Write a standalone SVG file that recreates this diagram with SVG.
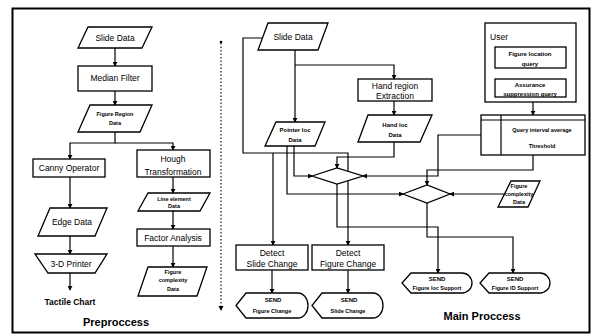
<svg xmlns="http://www.w3.org/2000/svg" width="594" height="336" viewBox="0 0 594 336">
<defs>
<marker id="ah" viewBox="0 0 6 6" refX="5" refY="3" markerWidth="5" markerHeight="5" orient="auto" markerUnits="userSpaceOnUse">
<path d="M0,0 L6,3 L0,6 z" fill="#000"/>
</marker>
<style>
.s{fill:#fff;stroke:#000;stroke-width:1.3}
.c{fill:none;stroke:#000;stroke-width:1.2}
.d{fill:none;stroke:#000;stroke-width:1.1;stroke-dasharray:1.5 2}
text{font-family:"Liberation Sans",Arial,sans-serif;fill:#000;text-anchor:middle}
.t8{font-size:8.5px}
.t6{font-size:6px;font-weight:bold}
.t5{font-size:5.5px;font-weight:bold}
.b{font-weight:bold}
</style>
</defs>
<rect x="0" y="0" width="594" height="336" fill="#fff"/>
<rect x="12.5" y="8.5" width="577" height="324" fill="none" stroke="#000" stroke-width="2"/>

<g id="separator">
<line x1="221" y1="43" x2="221" y2="306" class="d"/>
<circle cx="221" cy="42" r="1.3" fill="#000"/>
<path d="M218.5,306 L223.5,306 L221,311 z" fill="#000"/>
</g>

<g id="connectors">
<line x1="115" y1="48" x2="115" y2="66" class="c" marker-end="url(#ah)"/>
<line x1="115" y1="91" x2="115" y2="105" class="c" marker-end="url(#ah)"/>
<polyline points="115,132 115,143 70,143 70,159" class="c" marker-end="url(#ah)"/>
<polyline points="115,143 173,143 173,150" class="c" marker-end="url(#ah)"/>
<line x1="70" y1="177" x2="70" y2="208" class="c" marker-end="url(#ah)"/>
<line x1="70" y1="236" x2="70" y2="254" class="c" marker-end="url(#ah)"/>
<line x1="70" y1="273" x2="70" y2="290" class="c" marker-end="url(#ah)"/>
<line x1="173" y1="177" x2="173" y2="193" class="c" marker-end="url(#ah)"/>
<line x1="173" y1="211" x2="173" y2="229" class="c" marker-end="url(#ah)"/>
<line x1="173" y1="246" x2="173" y2="267" class="c" marker-end="url(#ah)"/>
<line x1="295" y1="50" x2="295" y2="122" class="c" marker-end="url(#ah)"/>
<polyline points="295,65 394,65 394,79" class="c" marker-end="url(#ah)"/>
<line x1="394" y1="101" x2="394" y2="115" class="c" marker-end="url(#ah)"/>
<polyline points="263,38 243,38 243,153 348,153 348,245" class="c" marker-end="url(#ah)"/>
<line x1="273" y1="153" x2="273" y2="245" class="c" marker-end="url(#ah)"/>
<polyline points="394,142 394,157 337,157 337,168" class="c" marker-end="url(#ah)"/>
<polyline points="294,146 294,176 312,176" class="c" marker-end="url(#ah)"/>
<polyline points="287,146 287,194 403,194" class="c" marker-end="url(#ah)"/>
<polyline points="481,135 438,135 438,176 363,176" class="c" marker-end="url(#ah)"/>
<polyline points="533,155 533,170 427,170 427,185" class="c" marker-end="url(#ah)"/>
<line x1="504" y1="194" x2="450" y2="194" class="c" marker-end="url(#ah)"/>
<polyline points="337,184 337,227 438,227 438,273" class="c" marker-end="url(#ah)"/>
<polyline points="427,203 427,237 513,237 513,273" class="c" marker-end="url(#ah)"/>
<line x1="533" y1="102" x2="533" y2="115" class="c" marker-end="url(#ah)"/>
<line x1="272" y1="270" x2="272" y2="293" class="c" marker-end="url(#ah)"/>
<line x1="348" y1="270" x2="348" y2="293" class="c" marker-end="url(#ah)"/>
</g>

<g id="pre-slide-data">
<polygon points="88,27 152,27 142,48 78,48" class="s"/>
<text x="115" y="41" class="t8">Slide Data</text>
</g>
<g id="median-filter">
<rect x="78" y="66" width="74" height="25" class="s"/>
<text x="115" y="81" class="t8">Median Filter</text>
</g>
<g id="figure-region-data">
<polygon points="90,105 152,105 140,132 78,132" class="s"/>
<text x="115" y="116" class="t5">Figure Region</text>
<text x="115" y="125" class="t5">Data</text>
</g>
<g id="canny">
<rect x="33" y="159" width="72" height="18" class="s"/>
<text x="69" y="171" class="t8">Canny Operator</text>
</g>
<g id="edge-data">
<polygon points="50,208 107,208 95,236 38,236" class="s"/>
<text x="72" y="225" class="t8">Edge Data</text>
</g>
<g id="printer">
<polygon points="35,254 107,254 95,273 48,273" class="s"/>
<text x="71" y="267" class="t8">3-D Printer</text>
</g>
<g id="tactile-chart">
<text x="70" y="305" class="t8 b">Tactile Chart</text>
</g>
<g id="hough">
<rect x="137" y="150" width="73" height="27" class="s"/>
<text x="173" y="162" class="t8">Hough</text>
<text x="173" y="175" class="t8">Transformation</text>
</g>
<g id="line-element-data">
<polygon points="148,193 210,193 200,211 138,211" class="s"/>
<text x="174" y="201" class="t5">Line element</text>
<text x="174" y="208" class="t5">Data</text>
</g>
<g id="factor-analysis">
<rect x="137" y="229" width="73" height="17" class="s"/>
<text x="173" y="241" class="t8">Factor Analysis</text>
</g>
<g id="pre-figure-complexity">
<polygon points="148,267 207,267 197,296 138,296" class="s"/>
<text x="173" y="274" class="t5">Figure</text>
<text x="173" y="282" class="t5">complexity</text>
<text x="173" y="291" class="t5">Data</text>
</g>
<g id="preprocess-title">
<text x="116" y="326" style="font-size:11px" class="b">Preproccess</text>
</g>

<g id="main-slide-data">
<polygon points="268,23 328,23 318,50 258,50" class="s"/>
<text x="293" y="40" class="t8">Slide Data</text>
</g>
<g id="hand-region">
<rect x="358" y="79" width="74" height="22" class="s"/>
<text x="395" y="89" class="t8">Hand region</text>
<text x="395" y="99" class="t8">Extraction</text>
</g>
<g id="hand-loc-data">
<polygon points="368,115 432,115 420,142 358,142" class="s"/>
<text x="395" y="127" class="t6">Hand loc</text>
<text x="395" y="137" class="t6">Data</text>
</g>
<g id="pointer-loc-data">
<polygon points="276,122 325,122 315,146 265,146" class="s"/>
<text x="295" y="132" class="t6">Pointer loc</text>
<text x="295" y="142" class="t6">Data</text>
</g>
<g id="user">
<rect x="485" y="23" width="91" height="79" class="s"/>
<text x="499" y="40" class="t8">User</text>
<rect x="495" y="47" width="71" height="21" class="s"/>
<text x="530" y="56" class="t6">Figure location</text>
<text x="530" y="66" class="t6">query</text>
<rect x="495" y="79" width="71" height="18" class="s"/>
<text x="530" y="87" class="t6">Assurance</text>
<text x="530" y="96" class="t6">suppression query</text>
</g>
<g id="query-threshold">
<rect x="481" y="115" width="104" height="40" class="s"/>
<line x1="481" y1="120" x2="585" y2="120" class="c"/>
<line x1="501" y1="115" x2="501" y2="155" class="c"/>
<text x="542" y="132" class="t5">Query interval average</text>
<text x="542" y="148" class="t5">Threshold</text>
</g>
<g id="diamond1">
<polygon points="312,176 337,168 363,176 337,184" class="s"/>
</g>
<g id="diamond2">
<polygon points="403,194 427,185 450,194 427,203" class="s"/>
</g>
<g id="main-figure-complexity">
<polygon points="511,181 540,181 528,207 498,207" class="s"/>
<text x="519" y="188" class="t5">Figure</text>
<text x="519" y="196" class="t5">complexity</text>
<text x="519" y="204" class="t5">Data</text>
</g>
<g id="detect-slide-change">
<rect x="236" y="245" width="72" height="25" class="s"/>
<text x="272" y="256" class="t8">Detect</text>
<text x="272" y="267" class="t8">Slide Change</text>
</g>
<g id="detect-figure-change">
<rect x="312" y="245" width="72" height="25" class="s"/>
<text x="348" y="256" class="t8">Detect</text>
<text x="348" y="267" class="t8">Figure Change</text>
</g>
<g id="send-figure-change">
<path d="M246,293 L298,293 A10,12.5 0 0 1 298,318 L246,318 L236,305.5 Z" class="s"/>
<text x="273" y="302" class="t6">SEND</text>
<text x="272" y="313" class="t5">Figure Change</text>
</g>
<g id="send-slide-change">
<path d="M322,293 L373,293 A10,12.5 0 0 1 373,318 L322,318 L312,305.5 Z" class="s"/>
<text x="349" y="302" class="t6">SEND</text>
<text x="348" y="313" class="t5">Slide Change</text>
</g>
<g id="send-figure-loc">
<path d="M411,273 L462,273 A10,10 0 0 1 462,293 L411,293 L402,283 Z" class="s"/>
<text x="437" y="281" class="t6">SEND</text>
<text x="437" y="290" class="t5">Figure loc Support</text>
</g>
<g id="send-figure-id">
<path d="M489,273 L540,273 A10,10 0 0 1 540,293 L489,293 L480,283 Z" class="s"/>
<text x="515" y="281" class="t6">SEND</text>
<text x="515" y="290" class="t5">Figure ID Support</text>
</g>
<g id="main-title">
<text x="482" y="320" style="font-size:11px" class="b">Main Proccess</text>
</g>
</svg>
